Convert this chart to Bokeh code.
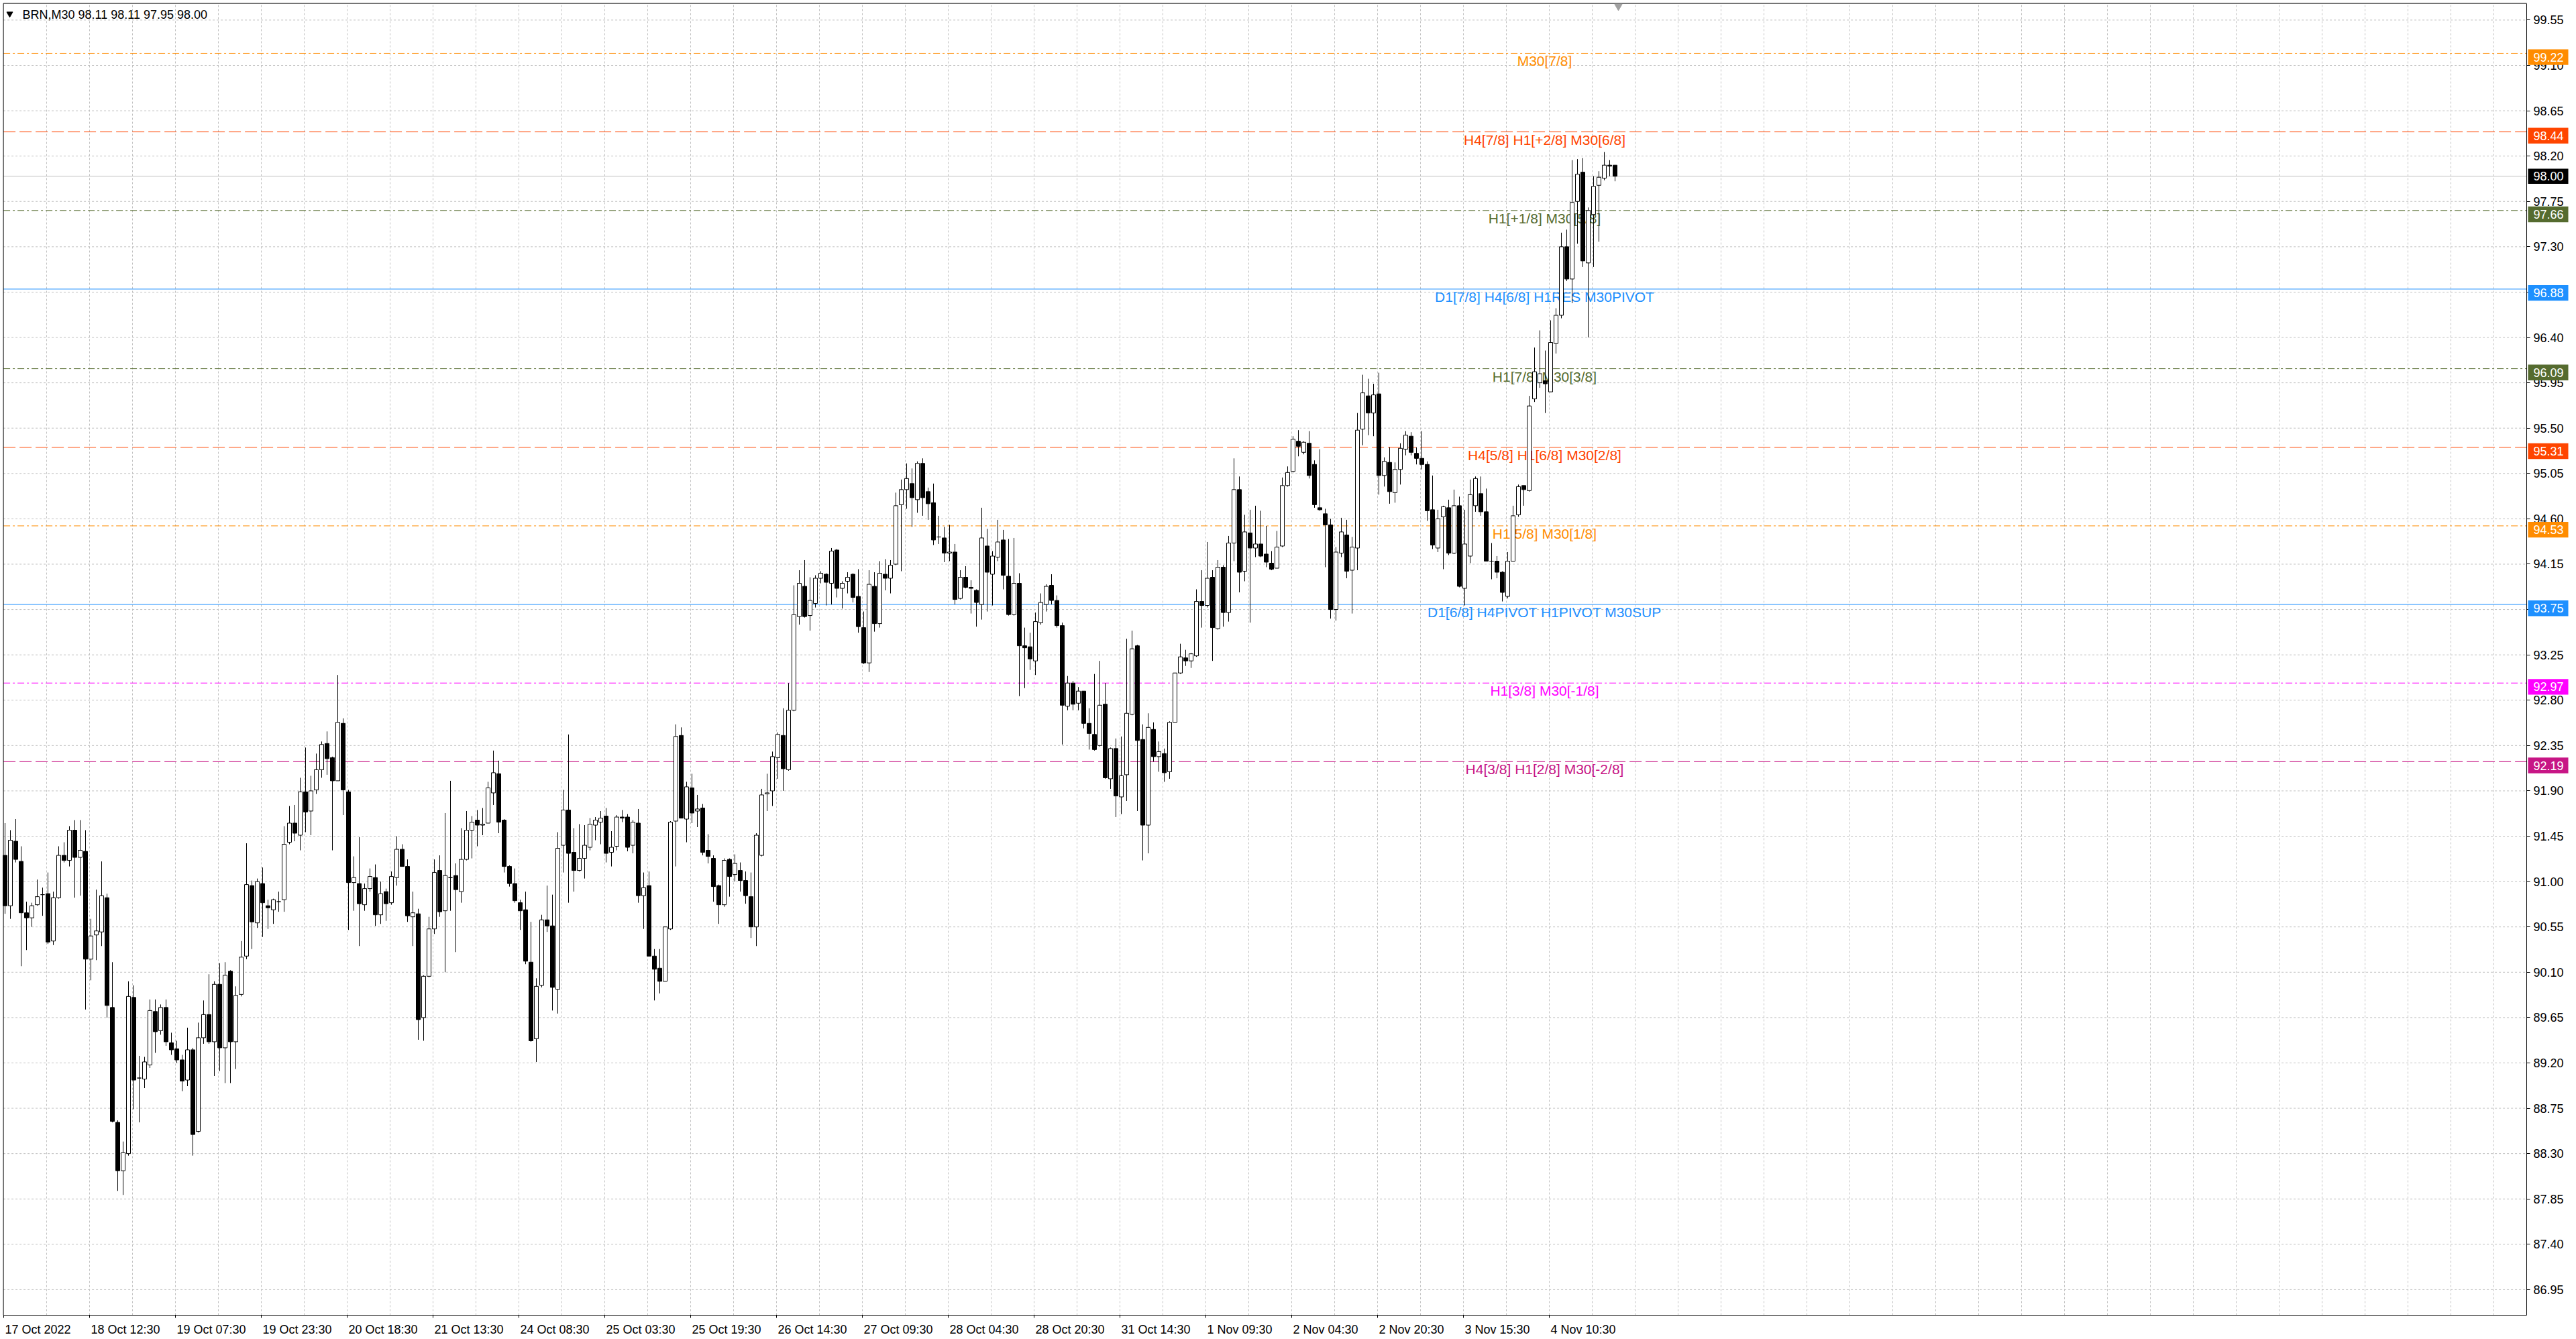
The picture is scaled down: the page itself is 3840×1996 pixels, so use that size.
from bokeh.plotting import figure
from bokeh.models import (Range1d, FixedTicker, Label, ColumnDataSource, PrintfTickFormatter,
                          LinearAxis)
from bokeh.core.properties import value
from bokeh.embed import file_html
from bokeh.resources import INLINE

# ---------------- data (H1 aggregation of the M30 chart) ----------------
symbol = "BRN,M30"
last_ohlc = ["98.11", "98.11", "97.95", "98.00"]

opens = [
    91.26, 90.76, 91.40, 91.20, 90.69, 90.64, 90.77, 90.87, 90.88, 90.41,
    90.84, 91.26, 91.21, 91.51, 91.24, 91.30, 90.23, 90.47, 90.50, 90.84,
    89.75, 88.61, 88.13, 88.30, 89.85, 89.05, 89.04, 89.18, 89.71, 89.52,
    89.75, 89.40, 89.34, 89.23, 89.03, 89.33, 88.52, 89.45, 89.68, 89.41,
    89.98, 89.35, 90.11, 89.41, 89.88, 90.26, 90.96, 90.59, 90.98, 90.76,
    90.72, 90.80, 90.82, 91.39, 91.58, 91.46, 91.89, 91.70, 91.91, 92.11,
    92.37, 92.23, 92.00, 92.57, 91.89, 90.99, 90.98, 90.77, 90.93, 91.04,
    90.67, 90.90, 90.79, 91.04, 91.32, 91.15, 90.65, 90.68, 89.65, 90.06,
    90.53, 91.11, 90.71, 91.04, 91.06, 90.90, 91.22, 91.51, 91.61, 91.56,
    91.58, 91.88, 92.07, 91.61, 91.15, 90.98, 90.79, 90.72, 90.20, 89.44,
    89.97, 90.62, 90.56, 89.93, 91.36, 91.71, 91.29, 91.11, 91.23, 91.34,
    91.56, 91.59, 91.65, 91.29, 91.35, 91.64, 91.64, 91.36, 91.58, 90.86,
    90.96, 90.26, 90.14, 90.01, 90.53, 91.60, 92.45, 91.62, 91.93, 91.70,
    91.73, 91.31, 91.23, 90.96, 90.77, 91.22, 91.07, 91.11, 91.01, 90.85,
    90.55, 91.26, 91.87, 91.90, 92.23, 92.45, 92.11, 92.70, 93.63, 93.93,
    93.64, 93.76, 94.01, 94.05, 93.96, 94.29, 93.91, 93.98, 94.05, 93.83,
    93.52, 93.17, 93.93, 93.56, 94.05, 94.01, 94.15, 94.74, 94.89, 94.95,
    94.79, 95.15, 94.87, 94.76, 94.42, 94.41, 94.26, 94.27, 93.81, 94.02,
    93.92, 93.89, 93.75, 94.33, 94.05, 94.22, 94.39, 94.03, 93.65, 93.96,
    93.34, 93.33, 93.19, 93.57, 93.75, 93.94, 93.79, 93.54, 92.74, 92.97,
    92.77, 92.89, 92.57, 92.46, 92.35, 92.76, 92.02, 92.32, 91.84, 92.06,
    92.66, 93.34, 92.41, 91.56, 92.51, 92.24, 92.27, 92.09, 92.58, 93.07,
    93.22, 93.19, 93.24, 93.78, 93.74, 94.02, 93.51, 94.12, 93.67, 94.36,
    94.89, 94.08, 94.46, 94.31, 94.35, 94.25, 94.16, 94.11, 94.33, 94.93,
    95.07, 95.37, 95.26, 95.35, 95.14, 94.71, 94.65, 94.54, 93.70, 94.26,
    94.44, 94.09, 94.31, 95.49, 95.82, 95.65, 95.84, 95.03, 95.16, 94.86,
    95.09, 95.29, 95.42, 95.25, 95.20, 95.14, 94.69, 94.31, 94.62, 94.71,
    94.26, 94.73, 93.91, 94.23, 94.73, 94.85, 94.67, 94.18, 94.18, 94.07,
    93.83, 94.18, 94.64, 94.93, 94.88, 95.79, 95.95, 95.97, 95.86, 96.34,
    96.62, 97.30, 96.98, 97.75, 98.04, 97.14, 97.62, 97.91, 97.98, 98.11,
    98.11,
]

highs = [
    91.58, 91.51, 91.62, 91.35, 90.80, 90.79, 91.02, 90.94, 91.09, 90.90,
    91.35, 91.39, 91.55, 91.61, 91.61, 91.51, 90.63, 90.92, 91.20, 90.88,
    90.20, 88.63, 88.42, 90.01, 89.97, 89.27, 89.26, 89.83, 89.83, 89.78,
    89.83, 89.50, 89.42, 89.28, 89.55, 89.35, 89.60, 89.82, 90.08, 90.01,
    90.19, 90.20, 90.12, 89.96, 90.41, 91.38, 91.01, 91.03, 91.14, 90.82,
    90.83, 90.90, 91.55, 91.75, 91.76, 92.03, 92.33, 92.05, 92.27, 92.39,
    92.49, 92.24, 93.05, 92.62, 91.91, 91.25, 91.44, 90.98, 91.13, 91.17,
    91.00, 90.93, 91.10, 91.45, 91.37, 91.22, 90.90, 90.73, 90.07, 90.65,
    91.22, 91.26, 91.68, 92.00, 91.18, 91.53, 91.70, 91.65, 91.71, 91.73,
    91.99, 92.30, 92.20, 91.62, 91.16, 91.13, 90.82, 90.90, 90.60, 90.04,
    90.67, 90.96, 90.87, 91.49, 91.91, 92.46, 91.53, 91.57, 91.56, 91.63,
    91.64, 91.70, 91.73, 91.50, 91.66, 91.71, 91.67, 91.61, 91.72, 91.09,
    91.10, 90.33, 90.33, 90.55, 91.60, 92.56, 92.53, 91.99, 92.07, 91.86,
    91.77, 91.47, 91.26, 90.97, 91.23, 91.23, 91.27, 91.19, 91.10, 91.09,
    91.48, 91.92, 92.07, 92.29, 92.48, 92.72, 92.97, 93.94, 94.09, 94.19,
    94.02, 94.04, 94.08, 94.06, 94.31, 94.30, 93.98, 94.07, 94.06, 94.10,
    93.68, 94.09, 94.07, 94.18, 94.20, 94.19, 94.86, 94.99, 95.15, 95.10,
    95.17, 95.20, 94.91, 94.95, 94.63, 94.52, 94.54, 94.35, 94.09, 94.13,
    93.99, 93.90, 94.71, 94.50, 94.28, 94.59, 94.49, 94.40, 94.41, 94.06,
    93.52, 93.47, 93.67, 93.86, 93.95, 94.05, 93.84, 93.57, 93.04, 92.99,
    92.93, 92.89, 92.72, 93.06, 93.19, 92.97, 92.33, 92.42, 92.44, 93.41,
    93.49, 93.35, 92.56, 92.67, 92.58, 92.39, 92.32, 92.59, 93.07, 93.36,
    93.30, 93.27, 93.90, 94.09, 94.37, 94.09, 94.19, 94.14, 94.43, 95.20,
    95.02, 94.64, 94.69, 94.73, 94.68, 94.53, 94.28, 94.48, 95.01, 95.12,
    95.42, 95.48, 95.37, 95.47, 95.18, 95.29, 94.70, 94.60, 94.32, 94.61,
    94.59, 94.42, 95.65, 96.03, 95.99, 95.94, 96.05, 95.21, 95.31, 95.16,
    95.35, 95.47, 95.46, 95.31, 95.47, 95.17, 95.03, 94.69, 94.73, 94.79,
    94.89, 94.82, 94.69, 94.99, 95.02, 95.02, 94.90, 94.36, 94.23, 94.08,
    94.27, 94.73, 94.94, 94.93, 95.82, 96.30, 96.47, 96.27, 96.57, 96.69,
    97.44, 97.47, 98.16, 98.17, 98.18, 97.69, 98.00, 98.05, 98.24, 98.16,
    98.11,
]

lows = [
    90.68, 90.63, 91.19, 90.16, 90.32, 90.55, 90.76, 90.66, 90.38, 90.37,
    90.83, 91.19, 91.15, 90.84, 90.86, 89.73, 90.02, 90.22, 90.36, 89.65,
    88.61, 87.93, 87.89, 88.28, 88.74, 88.61, 88.95, 89.15, 89.30, 89.48,
    89.37, 89.28, 89.20, 88.92, 88.97, 88.28, 88.51, 89.39, 89.39, 89.07,
    89.12, 89.00, 89.00, 89.14, 89.86, 90.23, 90.33, 90.54, 90.45, 90.53,
    90.58, 90.70, 90.70, 91.37, 91.40, 91.31, 91.49, 91.46, 91.87, 92.03,
    92.06, 91.31, 92.00, 91.66, 90.52, 90.71, 90.36, 90.71, 90.90, 90.56,
    90.58, 90.61, 90.77, 90.96, 91.15, 90.60, 90.36, 89.43, 89.42, 90.05,
    90.48, 90.65, 90.10, 90.71, 90.30, 90.79, 91.21, 91.23, 91.35, 91.46,
    91.58, 91.76, 91.48, 91.09, 90.95, 90.79, 90.52, 90.18, 89.41, 89.21,
    89.95, 90.50, 89.72, 89.69, 91.09, 90.79, 90.90, 91.10, 91.03, 91.31,
    91.41, 91.37, 91.19, 91.15, 91.31, 91.59, 91.30, 91.28, 90.79, 90.53,
    90.26, 89.82, 89.89, 90.01, 90.52, 91.15, 91.63, 91.39, 91.58, 91.54,
    91.26, 91.18, 90.80, 90.58, 90.75, 90.85, 91.00, 90.90, 90.78, 90.44,
    90.36, 91.25, 91.70, 91.75, 92.02, 91.90, 92.10, 92.69, 93.55, 93.62,
    93.49, 93.72, 93.96, 93.74, 93.75, 93.82, 93.71, 93.86, 93.77, 93.47,
    93.16, 93.08, 93.48, 93.52, 93.89, 93.86, 94.14, 94.08, 94.70, 94.52,
    94.66, 94.63, 94.59, 94.34, 94.35, 94.17, 94.18, 93.75, 93.80, 93.91,
    93.66, 93.53, 93.60, 93.68, 93.74, 94.18, 93.90, 93.64, 93.64, 92.84,
    92.92, 93.10, 93.05, 93.55, 93.68, 93.75, 93.52, 92.36, 92.70, 92.70,
    92.70, 92.52, 92.31, 92.30, 92.34, 92.02, 91.92, 91.64, 91.67, 91.80,
    92.65, 91.70, 91.21, 91.28, 92.19, 92.09, 91.99, 92.02, 92.58, 93.06,
    93.14, 93.12, 93.23, 93.52, 93.72, 93.19, 93.50, 93.53, 93.58, 94.18,
    93.87, 93.98, 93.57, 94.22, 94.22, 94.12, 94.09, 94.11, 94.32, 94.92,
    95.06, 95.22, 95.24, 95.00, 94.71, 94.68, 94.12, 93.61, 93.59, 94.22,
    94.01, 93.66, 94.09, 95.33, 95.43, 95.42, 94.84, 94.92, 94.75, 94.76,
    94.94, 95.23, 95.23, 95.14, 95.09, 94.58, 94.30, 94.27, 94.10, 94.24,
    94.25, 93.92, 93.74, 94.16, 94.67, 94.63, 94.18, 94.00, 94.01, 93.78,
    93.81, 94.18, 94.62, 94.73, 94.87, 95.76, 95.90, 95.65, 95.86, 96.24,
    96.59, 96.96, 96.74, 97.33, 97.10, 96.40, 97.10, 97.35, 97.96, 98.00,
    97.95,
]

closes = [
    90.76, 91.41, 91.22, 90.69, 90.64, 90.76, 90.85, 90.87, 90.40, 90.84,
    91.26, 91.21, 91.51, 91.24, 91.31, 90.23, 90.46, 90.51, 90.86, 89.77,
    88.62, 88.13, 88.31, 89.86, 89.03, 89.05, 89.21, 89.72, 89.51, 89.75,
    89.41, 89.33, 89.23, 89.02, 89.33, 88.49, 89.45, 89.68, 89.41, 89.98,
    89.35, 90.07, 89.41, 89.87, 90.25, 90.97, 90.60, 91.00, 90.79, 90.74,
    90.82, 90.80, 91.37, 91.58, 91.48, 91.89, 91.69, 91.90, 92.11, 92.36,
    92.22, 92.00, 92.58, 91.91, 90.99, 91.04, 90.78, 90.93, 91.05, 90.67,
    90.88, 90.78, 91.05, 91.32, 91.15, 90.66, 90.69, 89.63, 90.06, 90.53,
    91.09, 90.70, 91.06, 91.04, 90.92, 91.22, 91.51, 91.59, 91.56, 91.57,
    91.93, 92.08, 91.59, 91.15, 90.98, 90.81, 90.71, 90.21, 89.42, 89.96,
    90.62, 90.56, 89.95, 91.33, 91.71, 91.28, 91.11, 91.23, 91.36, 91.57,
    91.61, 91.63, 91.28, 91.34, 91.64, 91.63, 91.34, 91.59, 90.86, 90.94,
    90.26, 90.13, 90.01, 90.55, 91.59, 92.44, 91.63, 91.94, 91.68, 91.72,
    91.29, 91.25, 90.95, 90.77, 91.21, 91.05, 91.18, 91.01, 90.86, 90.55,
    91.46, 91.86, 91.88, 92.24, 92.46, 92.12, 92.70, 93.65, 93.96, 93.63,
    93.79, 94.01, 94.06, 93.97, 94.28, 93.91, 93.96, 94.02, 93.82, 93.53,
    93.17, 93.95, 93.56, 94.06, 94.01, 94.14, 94.73, 94.89, 95.00, 94.81,
    95.15, 94.81, 94.75, 94.39, 94.42, 94.26, 94.27, 93.80, 94.02, 93.92,
    93.91, 93.77, 94.41, 94.07, 94.23, 94.37, 94.04, 93.65, 93.96, 93.34,
    93.32, 93.21, 93.58, 93.77, 93.93, 93.79, 93.54, 92.75, 92.97, 92.76,
    92.89, 92.57, 92.47, 92.31, 92.75, 92.03, 92.32, 91.85, 92.05, 92.67,
    93.31, 92.40, 91.56, 92.53, 92.24, 92.29, 92.08, 92.58, 93.07, 93.23,
    93.19, 93.26, 93.78, 93.74, 94.01, 93.52, 94.12, 93.67, 94.36, 94.89,
    94.07, 94.47, 94.31, 94.35, 94.23, 94.17, 94.10, 94.32, 94.93, 95.06,
    95.39, 95.32, 95.36, 95.03, 94.74, 94.69, 94.54, 93.70, 94.27, 94.47,
    94.08, 94.32, 95.48, 95.85, 95.65, 95.83, 95.03, 95.17, 94.87, 95.09,
    95.30, 95.43, 95.26, 95.20, 95.14, 94.68, 94.34, 94.60, 94.72, 94.26,
    94.73, 93.93, 94.35, 94.84, 95.00, 94.67, 94.18, 94.18, 94.07, 93.87,
    94.18, 94.63, 94.92, 94.89, 95.72, 96.06, 96.04, 95.94, 96.35, 96.62,
    97.30, 96.98, 97.74, 98.02, 97.16, 97.66, 97.90, 97.99, 98.11, 98.10,
    98.00,
]

# time axis: one label every 32 M30 bars
bar_ticks = [0, 32, 64, 96, 128, 160, 192, 224, 256, 288, 320, 352, 384, 416, 448, 480, 512, 544, 576]
time_labels = ["17 Oct 2022", "18 Oct 12:30", "19 Oct 07:30", "19 Oct 23:30", "20 Oct 18:30",
               "21 Oct 13:30", "24 Oct 08:30", "25 Oct 03:30", "25 Oct 19:30", "26 Oct 14:30",
               "27 Oct 09:30", "28 Oct 04:30", "28 Oct 20:30", "31 Oct 14:30", "1 Nov 09:30",
               "2 Nov 04:30", "2 Nov 20:30", "3 Nov 15:30", "4 Nov 10:30"]

price_ticks = [86.95, 87.40, 87.85, 88.30, 88.75, 89.20, 89.65, 90.10, 90.55, 91.00,
               91.45, 91.90, 92.35, 92.80, 93.25, 93.70, 94.15, 94.60, 95.05, 95.50,
               95.95, 96.40, 96.85, 97.30, 97.75, 98.20, 98.65, 99.10, 99.55]

# Murrey-math style levels
level_prices = [99.22, 98.44, 97.66, 96.88, 96.09, 95.31, 94.53, 93.75, 92.97, 92.19]
level_texts = ["M30[7/8]", "H4[7/8] H1[+2/8] M30[6/8]", "H1[+1/8] M30[5/8]",
               "D1[7/8] H4[6/8] H1RES M30PIVOT", "H1[7/8] M30[3/8]", "H4[5/8] H1[6/8] M30[2/8]",
               "H1[5/8] M30[1/8]", "D1[6/8] H4PIVOT H1PIVOT M30SUP", "H1[3/8] M30[-1/8]",
               "H4[3/8] H1[2/8] M30[-2/8]"]
level_colors = ["#FF8C00", "#FF4500", "#556B2F", "#1E90FF", "#556B2F", "#FF4500",
                "#FF8C00", "#1E90FF", "#FF00FF", "#C71585"]
level_styles = ["dashdot", "dashed", "dashdot", "solid", "dashdot", "dashed",
                "dashdot", "solid", "dashdot", "dashed"]
bid_price = 98.00

# ---------------- layout (canvas pixels) ----------------
FONT = "Liberation Sans"
W, H = 3830, 1992
PX_PER_BAR = 4.0       # one M30 bar
PX_PER_UNIT = 150.2    # one price unit
CH_LEFT, CH_TOP, CH_RIGHT, CH_BOTTOM = 4.6, 4.6, 3766.0, 1960.0
DASHES = {"dashed": "18 6", "dashdot": "10 4 3 4", "solid": "solid"}


def sx(px):
    return (px - 5.0) / PX_PER_BAR


def sy(py):
    return 99.55 - (py - 29.4) / PX_PER_UNIT


X_L, X_R = sx(CH_LEFT), sx(CH_RIGHT)
Y_T, Y_B = sy(CH_TOP), sy(CH_BOTTOM)

n = min(len(opens), len(highs), len(lows), len(closes))
xs = [2 * j + 0.5 for j in range(n)]
tops = [max(opens[j], closes[j]) for j in range(n)]
bots = [min(opens[j], closes[j]) for j in range(n)]
fills = ["white" if closes[j] > opens[j] else "black" for j in range(n)]
src = ColumnDataSource(dict(x=xs, open=opens[:n], high=highs[:n], low=lows[:n], close=closes[:n],
                            top=tops, bottom=bots, fill=fills))

p = figure(width=W, height=H, x_range=Range1d(sx(0), sx(W)), y_range=Range1d(sy(H), sy(0)),
           x_axis_location=None, y_axis_location=None,
           output_backend="svg", toolbar_location=None,
           min_border_left=0, min_border_top=0, min_border_right=0, min_border_bottom=0,
           background_fill_color="white", border_fill_color="white", outline_line_color=None)
p.xgrid.visible = False
p.ygrid.visible = False

# grid (dotted light gray, only inside the chart area)
vgrid = [t for t in range(16, 941, 16) if t < X_R]
p.segment(x0=vgrid, y0=[Y_B] * len(vgrid), x1=vgrid, y1=[Y_T] * len(vgrid),
          line_color="#C0C0C0", line_dash="3 3", line_width=1)
p.segment(x0=[X_L] * len(price_ticks), y0=price_ticks, x1=[X_R] * len(price_ticks), y1=price_ticks,
          line_color="#C0C0C0", line_dash="3 3", line_width=1)

# level lines
for price, col, sty in zip(level_prices, level_colors, level_styles):
    p.segment(x0=[X_L], y0=[price], x1=[X_R], y1=[price], line_color=col, line_width=1,
              line_dash=DASHES[sty])
p.segment(x0=[X_L], y0=[bid_price], x1=[X_R], y1=[bid_price], line_color="#C0C0C0", line_width=1)

# level texts (under the candles, as in the terminal)
lsrc = ColumnDataSource(dict(x=[574.25] * len(level_prices), y=level_prices,
                             text=level_texts, color=level_colors))
p.text(x="x", y="y", text="text", source=lsrc, text_color="color", text_align="center",
       text_baseline="top", text_font=value(FONT), text_font_size="21px")

# candles
p.segment(x0="x", y0="low", x1="x", y1="high", source=src, line_color="black", line_width=1)
p.vbar(x="x", width=1.5, top="top", bottom="bottom", source=src, fill_color="fill",
       line_color="black", line_width=1)

# chart border (left / top); right and bottom come from the axes
p.segment(x0=[X_L, X_L], y0=[Y_B, Y_T], x1=[X_L, X_R], y1=[Y_T, Y_T], line_color="black", line_width=1)

# price scale on the right
yax = LinearAxis(fixed_location=X_R, ticker=FixedTicker(ticks=price_ticks),
                 formatter=PrintfTickFormatter(format="%.2f"), bounds=(Y_B, Y_T))
yax.major_label_text_font = FONT
yax.major_label_text_font_size = "18px"
yax.major_label_text_color = "black"
yax.major_tick_in = 0
yax.major_tick_out = 5
yax.minor_tick_in = 0
yax.minor_tick_out = 0
yax.major_label_standoff = 5
yax.axis_line_color = "black"
p.add_layout(yax, "right")

# time scale at the bottom: ticks at bar positions, labels start right of their tick
AW = {" ": 278, ":": 278, "O": 778, "c": 500, "t": 278, "N": 722, "o": 556, "v": 500}
label_pos = []
for t, lab in zip(bar_ticks, time_labels):
    wpx = sum(AW.get(ch, 556) for ch in lab) * 18 / 1000.0
    label_pos.append(round(t + (wpx / 2 + 2) / PX_PER_BAR, 4) + 0.0001)
xax = LinearAxis(fixed_location=Y_B, ticker=FixedTicker(ticks=label_pos, minor_ticks=bar_ticks),
                 bounds=(X_L, X_R))
xax.major_label_overrides = {pos: lab for pos, lab in zip(label_pos, time_labels)}
xax.major_label_text_font = FONT
xax.major_label_text_font_size = "18px"
xax.major_label_text_color = "black"
xax.major_tick_in = 0
xax.major_tick_out = 0
xax.minor_tick_in = 0
xax.minor_tick_out = 4
xax.major_label_standoff = 7
xax.axis_line_color = "black"
p.add_layout(xax, "below")

# header text
p.scatter(x=[sx(14)], y=[sy(20)], marker="inverted_triangle", size=9, color="black")
p.add_layout(Label(x=sx(33), y=sy(21), text=symbol + "  " + " ".join(last_ohlc),
                   text_font=FONT, text_font_size="18px", text_color="black",
                   text_baseline="middle", text_align="left"))
# chart shift marker
p.scatter(x=[sx(2412)], y=[sy(9)], marker="inverted_triangle", size=11, color="#A0A0A0")

# price tags on the right scale (drawn above the axis labels)
tag_prices = level_prices + [bid_price]
tag_colors = level_colors + ["black"]
tag_up = [6.0] * len(level_prices) + [11.3]      # px above the line
tag_down = [17.4] * len(level_prices) + [11.4]   # px below the line
tsrc = ColumnDataSource(dict(
    left=[sx(3768)] * len(tag_prices), right=[sx(3828)] * len(tag_prices),
    top=[pr + u / PX_PER_UNIT for pr, u in zip(tag_prices, tag_up)],
    bottom=[pr - d / PX_PER_UNIT for pr, d in zip(tag_prices, tag_down)],
    ty=[pr + (u - d) / 2 / PX_PER_UNIT for pr, u, d in zip(tag_prices, tag_up, tag_down)],
    tx=[sx(3776)] * len(tag_prices),
    text=["%.2f" % pr for pr in tag_prices], color=tag_colors))
p.quad(left="left", right="right", top="top", bottom="bottom", source=tsrc,
       fill_color="color", line_color=None, level="overlay")
p.text(x="tx", y="ty", text="text", source=tsrc, text_color="white", text_align="left",
       text_baseline="middle", text_font=value(FONT), text_font_size="18px", level="overlay")

open("out.html", "w").write(file_html(p, INLINE))
